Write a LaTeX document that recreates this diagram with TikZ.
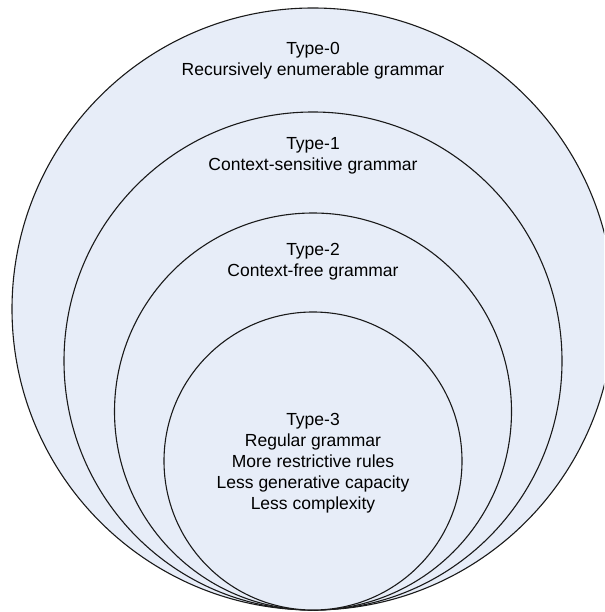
\documentclass[tikz,border=0pt]{standalone}
\usepackage{fontspec}
\setmainfont{Liberation Sans}
\definecolor{setfill}{HTML}{E7EDF8}
\definecolor{setline}{HTML}{1A1A1A}
\begin{document}
\begin{tikzpicture}[x=1pt,y=-1pt,
  langset/.style={draw=setline,line width=1.1pt,fill=setfill},
  % base anchor of a multi-line node sits on its last line
  label/.style={anchor=base,align=center,inner sep=0pt,
    font=\fontsize{17.5}{21}\selectfont}]
\useasboundingbox (0,0) rectangle (604,612);
\clip (0,0) rectangle (604,612);
% nested language classes, all touching at the bottom
\draw[langset] (313,309) circle[radius=301];
\draw[langset] (313,361) circle[radius=249];
\draw[langset] (313,411.5) circle[radius=198.5];
\draw[langset] (313,461) circle[radius=149];
% class labels
\node[label] (t0) at (313,76) {Type-0\\Recursively enumerable grammar};
\node[label] (t1) at (313,171) {Type-1\\Context-sensitive grammar};
\node[label] (t2) at (313,276) {Type-2\\Context-free grammar};
\node[label] (t3) at (313,509) {Type-3\\Regular grammar\\More restrictive rules\\Less generative capacity\\Less complexity};
\end{tikzpicture}
\end{document}
